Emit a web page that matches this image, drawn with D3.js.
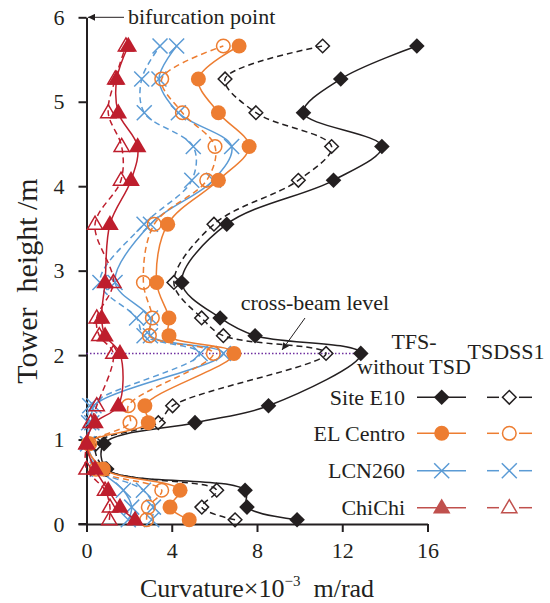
<!DOCTYPE html>
<html>
<head>
<meta charset="utf-8">
<script src="https://cdn.jsdelivr.net/npm/d3@7"></script>
<style>
  body { margin: 0; background: #fff; }
  svg { display: block; }
  text { font-family: "Liberation Serif", "Times New Roman", serif; fill: #231f20; }
</style>
</head>
<body>
<svg id="chart" width="550" height="603"></svg>
<script>
// ---------------- data ----------------
const heights = [0.05, 0.2, 0.4, 0.65, 0.95, 1.2, 1.4, 2.02, 2.23, 2.44, 2.86, 3.55, 4.07, 4.47, 4.87, 5.27, 5.66];

const siteE10_TFS    = [9.88, 7.53, 7.44, 0.95, 0.82, 5.09, 8.54, 12.87, 7.91, 6.27, 4.47, 6.58, 11.59, 13.86, 10.18, 11.93, 15.5];
const siteE10_TSDSS1 = [6.97, 5.41, 6.11, 0.9, 0.45, 3.37, 4.04, 11.24, 6.42, 5.4, 4.1, 5.98, 9.94, 11.5, 7.95, 6.5, 11.08];

const elCentro_TFS    = [4.82, 3.92, 4.39, 0.79, 0.08, 2.9, 2.74, 6.92, 3.87, 3.87, 3.29, 3.81, 6.19, 7.63, 6.19, 5.25, 7.16];
const elCentro_TSDSS1 = [2.82, 2.9, 3.53, 0.45, 0.15, 2.04, 1.96, 5.95, 2.95, 3.09, 2.67, 3.18, 5.64, 6.03, 4.5, 3.53, 6.42];

const lcn260_TFS    = [1.96, 2.12, 1.73, 0.6, 0.05, 0.25, 0.35, 6.42, 3.0, 3.0, 1.34, 3.0, 5.95, 6.81, 4.31, 3.4, 4.23];
const lcn260_TSDSS1 = [3.06, 3.14, 2.67, 0.5, 0.05, 0.1, 0.15, 5.33, 2.7, 2.35, 0.63, 2.7, 4.94, 5.01, 2.71, 2.59, 3.45];

const chichi_TFS    = [2.28, 1.57, 1.02, 0.4, 0.0, 0.4, 1.49, 1.57, 0.87, 0.71, 0.87, 1.1, 2.09, 2.4, 1.49, 1.42, 1.96];
const chichi_TSDSS1 = [1.07, 1.1, 0.87, 0.0, 0.0, 0.2, 0.48, 1.26, 0.6, 0.48, 1.26, 0.4, 1.62, 1.65, 1.02, 1.35, 1.85];

const crossBeamLevel = 2.02;
const crossBeamEnd = 12.65;

const xTicks = [0, 4, 8, 12, 16];
const yTicks = [0, 1, 2, 3, 4, 5, 6];
const records = ["Site E10", "EL Centro", "LCN260", "ChiChi"];
const caseLabels = ["TFS-", "without TSD", "TSDSS1"];

// ---------------- styling ----------------
const colors = { "Site E10": "#231f20", "EL Centro": "#ed7d31", "LCN260": "#5b9bd5", "ChiChi": "#be1e2d" };
const legendRed = "#c0504d";
const markerKind = { "Site E10": "diamond", "EL Centro": "circle", "LCN260": "cross", "ChiChi": "triangle" };

const series = [
  { rec: "LCN260", filled: true, vals: lcn260_TFS },
  { rec: "LCN260", filled: false, vals: lcn260_TSDSS1 },
  { rec: "Site E10", filled: false, vals: siteE10_TSDSS1 },
  { rec: "Site E10", filled: true, vals: siteE10_TFS },
  { rec: "EL Centro", filled: false, vals: elCentro_TSDSS1 },
  { rec: "EL Centro", filled: true, vals: elCentro_TFS },
  { rec: "ChiChi", filled: false, vals: chichi_TSDSS1 },
  { rec: "ChiChi", filled: true, vals: chichi_TFS }
];

const svg = d3.select("#chart");
const x = d3.scaleLinear().domain([0, 16]).range([86.5, 427.5]);
const y = d3.scaleLinear().domain([0, 6]).range([524, 17.3]);

// marker path generator
function markerPath(kind, filled) {
  if (kind === "diamond") {
    const r = filled ? 7.8 : 6.8;
    return `M0,${-r}L${r},0L0,${r}L${-r},0Z`;
  }
  if (kind === "circle") {
    const r = filled ? 7.5 : 6.8;
    return `M${r},0A${r},${r} 0 1,1 ${-r},0A${r},${r} 0 1,1 ${r},0Z`;
  }
  if (kind === "cross") {
    const r = 7.5;
    return `M${-r},${-r}L${r},${r}M${-r},${r}L${r},${-r}`;
  }
  if (kind === "triangle") {
    const w = filled ? 8.8 : 7.6, h = filled ? 15 : 13;
    return `M0,${-h * 0.62}L${w},${h * 0.38}L${-w},${h * 0.38}Z`;
  }
}
function drawMarker(g, kind, filled, color, cx, cy) {
  const p = g.append("path")
    .attr("d", markerPath(kind, filled))
    .attr("transform", `translate(${cx},${cy})`);
  if (kind === "cross") {
    p.attr("fill", "none").attr("stroke", color).attr("stroke-width", 1.5);
  } else if (filled) {
    p.attr("fill", color).attr("stroke", "none");
  } else {
    p.attr("fill", "none").attr("stroke", color).attr("stroke-width", 1.5);
  }
}

// ---------------- axes ----------------
const xAxis = d3.axisBottom(x).tickValues(xTicks).tickFormat(d3.format("d")).tickSize(8).tickSizeOuter(0).tickPadding(10);
const yAxis = d3.axisLeft(y).tickValues(yTicks).tickFormat(d3.format("d")).tickSize(8).tickSizeOuter(0).tickPadding(14);

const gx = svg.append("g").attr("transform", `translate(0,${y(0)})`).call(xAxis);
const gy = svg.append("g").attr("transform", `translate(${x(0)},0)`).call(yAxis);
[gx, gy].forEach(g => {
  g.select(".domain").attr("stroke", "#231f20").attr("stroke-width", 2);
  g.selectAll(".tick line").attr("stroke", "#231f20").attr("stroke-width", 2);
  g.selectAll(".tick text").attr("font-size", 22).attr("fill", "#231f20")
    .attr("font-family", '"Liberation Serif", "Times New Roman", serif');
});
// extend x-axis line leftwards to meet the y tick at 0
svg.append("line").attr("x1", x(0) - 8).attr("x2", x(0)).attr("y1", y(0)).attr("y2", y(0))
  .attr("stroke", "#231f20").attr("stroke-width", 2);

// axis titles
const xt = svg.append("text").attr("x", 257).attr("y", 597).attr("text-anchor", "middle").attr("font-size", 26);
xt.append("tspan").text("Curvature×10");
xt.append("tspan").attr("font-size", 15).attr("dy", -11).text("−3");
xt.append("tspan").attr("dy", 11).text("\u00a0 m/rad");

svg.append("text").attr("transform", `translate(37,281) rotate(-90)`)
  .attr("text-anchor", "middle").attr("font-size", 30).text("Tower\u00a0 height /m");

// ---------------- cross-beam line ----------------
svg.append("line")
  .attr("x1", x(0)).attr("x2", x(crossBeamEnd))
  .attr("y1", y(crossBeamLevel)).attr("y2", y(crossBeamLevel))
  .attr("stroke", "#7030a0").attr("stroke-width", 1.5).attr("stroke-dasharray", "1.5,2");

// ---------------- series ----------------
const line = d3.line().x(d => x(d.v)).y(d => y(d.h)).curve(d3.curveCatmullRom.alpha(0.5));
const plot = svg.append("g");
series.forEach(s => {
  const pts = heights.map((h, i) => ({ h, v: s.vals[i] }));
  const col = colors[s.rec];
  plot.append("path").datum(pts).attr("d", line)
    .attr("fill", "none").attr("stroke", col).attr("stroke-width", 1.5)
    .attr("stroke-dasharray", s.filled ? null : "6,4");
  const mg = plot.append("g");
  pts.forEach(p => drawMarker(mg, markerKind[s.rec], s.filled, col, x(p.v), y(p.h)));
});

// ---------------- annotations ----------------
const defs = svg.append("defs");
defs.append("marker").attr("id", "arr").attr("viewBox", "0 0 10 10").attr("refX", 10).attr("refY", 5)
  .attr("markerWidth", 9).attr("markerHeight", 7).attr("markerUnits", "userSpaceOnUse").attr("orient", "auto")
  .append("path").attr("d", "M0,0L10,5L0,10Z").attr("fill", "#231f20");

svg.append("line").attr("x1", 124).attr("y1", y(6)).attr("x2", x(0) + 1.5).attr("y2", y(6))
  .attr("stroke", "#231f20").attr("stroke-width", 1).attr("marker-end", "url(#arr)");
svg.append("text").attr("x", 128).attr("y", 24).attr("font-size", 22).text("bifurcation point");

svg.append("text").attr("x", 315).attr("y", 310).attr("text-anchor", "middle").attr("font-size", 22).text("cross-beam level");
svg.append("line").attr("x1", 305).attr("y1", 318).attr("x2", 282).attr("y2", 350)
  .attr("stroke", "#231f20").attr("stroke-width", 1).attr("marker-end", "url(#arr)");

svg.append("text").attr("x", 414).attr("y", 349).attr("text-anchor", "middle").attr("font-size", 22).text(caseLabels[0]);
svg.append("text").attr("x", 414).attr("y", 374).attr("text-anchor", "middle").attr("font-size", 22).text(caseLabels[1]);
svg.append("text").attr("x", 506).attr("y", 359).attr("text-anchor", "middle").attr("font-size", 22).text(caseLabels[2]);

// ---------------- legend ----------------
const legY = [397.3, 433.3, 470.7, 507.7];
const lg = svg.append("g");
records.forEach((r, i) => {
  const yy = legY[i];
  const col = r === "ChiChi" ? legendRed : colors[r];
  lg.append("text").attr("x", 405).attr("y", yy + 7.5).attr("text-anchor", "end").attr("font-size", 22).text(r);
  lg.append("line").attr("x1", 417).attr("x2", 466).attr("y1", yy).attr("y2", yy)
    .attr("stroke", col).attr("stroke-width", 1.5);
  drawMarker(lg, markerKind[r], true, col, 441.7, yy);
  [[487, 499], [519, 532]].forEach(([a, b]) =>
    lg.append("line").attr("x1", a).attr("x2", b).attr("y1", yy).attr("y2", yy)
      .attr("stroke", col).attr("stroke-width", 1.5));
  drawMarker(lg, markerKind[r], false, col, 509.3, yy);
});
</script>
</body>
</html>
